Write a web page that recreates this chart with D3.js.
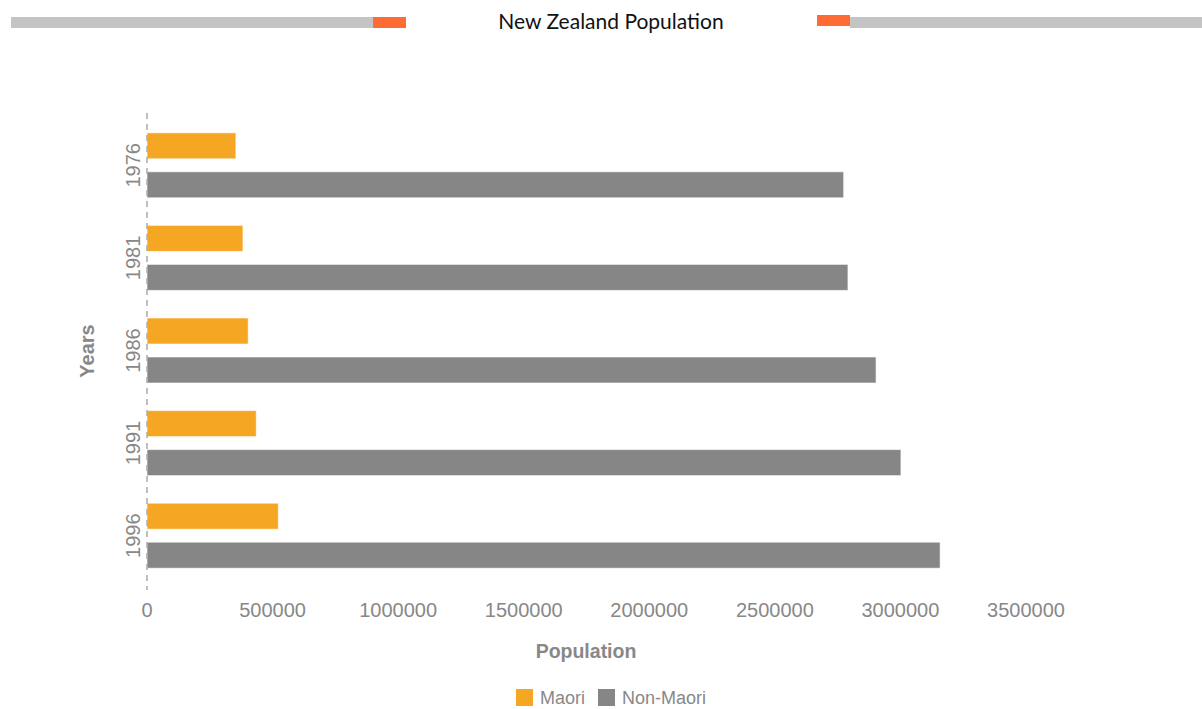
<!DOCTYPE html>
<html>
<head>
<meta charset="utf-8">
<script src="https://cdn.jsdelivr.net/npm/d3@7"></script>
<style>
  body { margin: 0; background: #fff; }
  svg { display: block; }
</style>
</head>
<body>
<svg id="chart"></svg>
<script>
// Data
const years = ["1976", "1981", "1986", "1991", "1996"];
const series = ["Maori", "Non-Maori"];
const maori = [354000, 382000, 403000, 435000, 523000];
const nonMaori = [2774000, 2791000, 2903000, 3002000, 3158000];
const xTicks = [0, 500000, 1000000, 1500000, 2000000, 2500000, 3000000, 3500000];
const colors = { "Maori": "#f5a623", "Non-Maori": "#868686" };

const W = 1202, H = 709;
const svg = d3.select("#chart").attr("width", W).attr("height", H);

const rows = years.map((y, i) => ({ year: y, "Maori": maori[i], "Non-Maori": nonMaori[i] }));

// Scales
const x = d3.scaleLinear().domain([0, 3500000]).range([147, 1026]);
const y = d3.scaleBand().domain(years).range([119, 582]);
const ySub = d3.scaleBand().domain(series).range([0, y.step()])
    .paddingInner(1 / 3).paddingOuter(0.354);

// Title with decorative bars
const header = svg.append("g");
header.append("rect").attr("x", 11).attr("y", 17).attr("width", 362).attr("height", 11).attr("fill", "#c4c4c4");
header.append("rect").attr("x", 373).attr("y", 17).attr("width", 33).attr("height", 11).attr("fill", "#ff6b35");
header.append("rect").attr("x", 817).attr("y", 15).attr("width", 33).attr("height", 11).attr("fill", "#ff6b35");
header.append("rect").attr("x", 850).attr("y", 17).attr("width", 352).attr("height", 11).attr("fill", "#c4c4c4");
header.append("text")
    .attr("x", 611).attr("y", 29)
    .attr("text-anchor", "middle")
    .style("font-family", "Lato, sans-serif")
    .style("font-size", "21px")
    .style("fill", "#111")
    .text("New Zealand Population");

// Bars
const groups = svg.selectAll(".year")
    .data(rows)
    .enter()
    .append("g")
    .attr("transform", d => `translate(0,${y(d.year)})`);

groups.selectAll("rect")
    .data(d => series.map(s => ({ key: s, value: d[s] })))
    .enter()
    .append("rect")
    .attr("x", x(0))
    .attr("y", d => ySub(d.key))
    .attr("width", d => x(d.value) - x(0))
    .attr("height", ySub.bandwidth())
    .attr("fill", d => colors[d.key])
    .attr("stroke", "#fff")
    .attr("stroke-opacity", 0.6)
    .attr("stroke-width", 1);

// Y axis (dashed line + rotated labels)
svg.append("line")
    .attr("x1", 147).attr("x2", 147)
    .attr("y1", 113).attr("y2", 590)
    .attr("stroke", "#aaa")
    .attr("stroke-width", 1.5)
    .attr("stroke-dasharray", "6,5");

svg.selectAll(".ylab")
    .data(years)
    .enter()
    .append("text")
    .attr("transform", d => `translate(140,${y(d) + y.bandwidth() / 2}) rotate(-90)`)
    .attr("text-anchor", "middle")
    .style("font-family", "'Liberation Sans', Arial, sans-serif")
    .style("font-size", "20px")
    .style("fill", "#888")
    .text(d => d);

// X axis tick labels
svg.selectAll(".xlab")
    .data(xTicks)
    .enter()
    .append("text")
    .attr("x", d => x(d))
    .attr("y", 617)
    .attr("text-anchor", "middle")
    .style("font-family", "'Liberation Sans', Arial, sans-serif")
    .style("font-size", "20px")
    .style("fill", "#888")
    .text(d => d);

// Axis titles
svg.append("text")
    .attr("x", 586).attr("y", 658)
    .attr("text-anchor", "middle")
    .style("font-family", "'Liberation Sans', Arial, sans-serif")
    .style("font-size", "19.5px")
    .style("font-weight", "bold")
    .style("fill", "#888")
    .text("Population");

svg.append("text")
    .attr("transform", "translate(94,351) rotate(-90)")
    .attr("text-anchor", "middle")
    .style("font-family", "'Liberation Sans', Arial, sans-serif")
    .style("font-size", "20px")
    .style("font-weight", "bold")
    .style("fill", "#888")
    .text("Years");

// Legend
const legend = svg.append("g");
const legendX = [516, 598];
series.forEach((s, i) => {
    legend.append("rect")
        .attr("x", legendX[i]).attr("y", 689)
        .attr("width", 17).attr("height", 17)
        .attr("fill", colors[s]);
    legend.append("text")
        .attr("x", legendX[i] + 24).attr("y", 704)
        .style("font-family", "'Liberation Sans', Arial, sans-serif")
        .style("font-size", "18px")
        .style("fill", "#888")
        .text(s);
});
</script>
</body>
</html>
